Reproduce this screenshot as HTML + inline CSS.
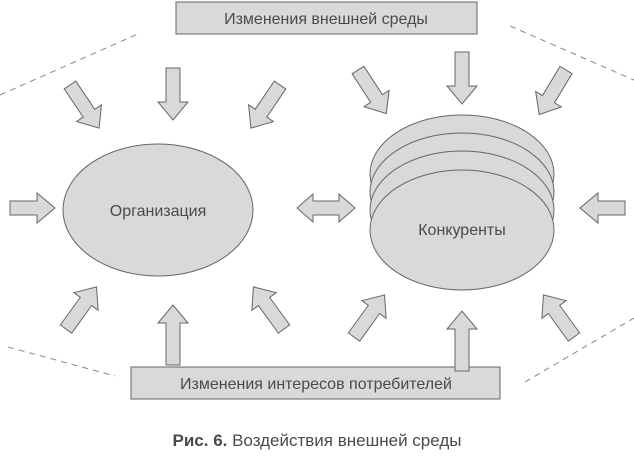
<!DOCTYPE html>
<html><head><meta charset="utf-8"><style>
body{margin:0;background:#fff}
svg{display:block}
text{font-family:"Liberation Sans","DejaVu Sans",sans-serif;fill:#4a4a4a}
</style></head><body>
<svg width="634" height="464" viewBox="0 0 634 464" xmlns="http://www.w3.org/2000/svg">
<defs>
<polygon id="a50" points="0,-7 34,-7 34,-15 52,0 34,15 34,7 0,7"/>
<polygon id="a60" points="0,-7 42,-7 42,-15 60,0 42,15 42,7 0,7"/>
<polygon id="a45" points="0,-7 27,-7 27,-15 45,0 27,15 27,7 0,7"/>
</defs>
<g stroke="#888" stroke-width="1" stroke-dasharray="6,5" fill="none">
<line x1="0" y1="95" x2="140" y2="33"/>
<line x1="510" y1="26" x2="634" y2="80"/>
<line x1="8" y1="347" x2="115" y2="376"/>
<line x1="525" y1="382" x2="634" y2="318"/>
</g>
<g fill="#d9d9d9" stroke="#666" stroke-width="1">
<rect x="176" y="2" width="301" height="32"/>
<rect x="131" y="367" width="369" height="32"/>
<ellipse cx="158" cy="210" rx="95" ry="66"/>
<ellipse cx="462" cy="174" rx="92" ry="59"/>
<ellipse cx="462" cy="192" rx="92" ry="59"/>
<ellipse cx="462" cy="210" rx="92" ry="59"/>
<ellipse cx="462" cy="230" rx="92" ry="60"/>
<use href="#a50" transform="translate(70,85) rotate(56)"/>
<use href="#a50" transform="translate(173,68) rotate(90)"/>
<use href="#a50" transform="translate(280,85) rotate(124)"/>
<use href="#a50" transform="translate(358,70) rotate(57)"/>
<use href="#a50" transform="translate(462,52) rotate(90)"/>
<use href="#a50" transform="translate(566,70) rotate(121)"/>
<use href="#a45" transform="translate(10,208) rotate(0)"/>
<use href="#a45" transform="translate(625,208) rotate(180)"/>
<use href="#a50" transform="translate(66,329) rotate(-54)"/>
<use href="#a60" transform="translate(173,365) rotate(-90)"/>
<use href="#a50" transform="translate(284,329) rotate(-126)"/>
<use href="#a50" transform="translate(354,337) rotate(-54)"/>
<use href="#a60" transform="translate(462,371) rotate(-90)"/>
<use href="#a50" transform="translate(574,337) rotate(-126)"/>
<polygon points="297,208 313,194 313,201 339,201 339,194 355,208 339,222 339,215 313,215 313,222"/>
</g>
<text x="326" y="24" font-size="16" text-anchor="middle">Изменения внешней среды</text>
<text x="316" y="389" font-size="16" text-anchor="middle">Изменения интересов потребителей</text>
<text x="158" y="216" font-size="16" text-anchor="middle">Организация</text>
<text x="462" y="235" font-size="16" text-anchor="middle">Конкуренты</text>
<text x="317" y="446" font-size="17" text-anchor="middle"><tspan font-weight="bold">Рис. 6.</tspan> Воздействия внешней среды</text>
</svg>
</body></html>
